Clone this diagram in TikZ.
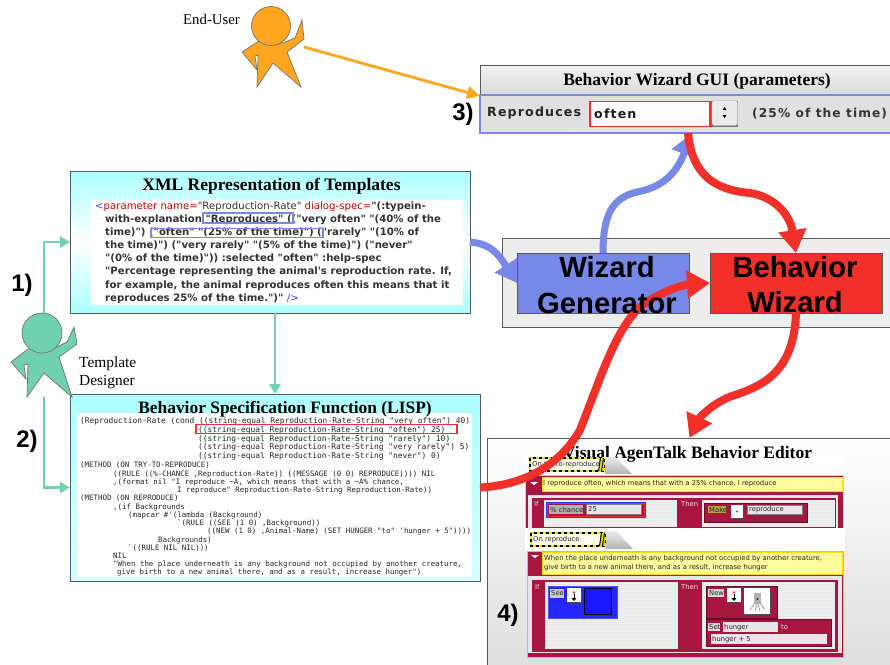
\documentclass[tikz,border=0pt]{standalone}
\usepackage{fontspec}
\setmainfont{Liberation Serif}
\setsansfont{Liberation Sans}
\newfontfamily\codefont{DejaVu Sans}
\newfontfamily\lispfont{DejaVu Sans Mono}
\newfontfamily\guifont[LetterSpace=9]{DejaVu Sans}
\usetikzlibrary{arrows.meta,calc}
\definecolor{grn}{HTML}{6FD1B0}
\definecolor{org}{HTML}{FFA51E}
\definecolor{blu}{HTML}{7788E8}
\definecolor{redd}{HTML}{F2302A}
\definecolor{cyn}{HTML}{ACFFFF}
\definecolor{crim}{HTML}{A8163F}
\definecolor{yel}{HTML}{FFFA9C}
\definecolor{pan}{HTML}{E6E6EA}
\newcommand{\fs}[2]{\fontsize{#1}{#2}\selectfont}
\newcommand{\ind}[1]{\hspace*{#1pt}}
\tikzset{
  box/.style={anchor=north west,inner sep=0pt,outer sep=0pt,draw=black!65,line width=1pt},
  title/.style={font=\bfseries\fs{17.5}{19},inner sep=0pt},
  person/.style={draw=black!55,line width=.7pt,line join=miter},
  bignum/.style={font=\sffamily\bfseries\fs{24}{26},inner sep=0pt},
  biglabel/.style={font=\sffamily\bfseries\fs{29.2}{35.5},align=center,inner sep=0pt,text=black},
  thickblue/.style={draw=blu,line width=7pt,-{Triangle[length=21pt,width=25pt]}},
  thickred/.style={draw=redd,line width=8pt,-{Triangle[length=23pt,width=27pt]}},
  thinarrow/.style={draw=grn,line width=2.5pt,-{Triangle[length=10pt,width=11pt]}},
  hilite/.style={draw=blu,line width=1.3pt,inner sep=0pt,outer sep=0pt,anchor=north west},
  redbox/.style={draw=redd,line width=1.2pt,inner sep=0pt,outer sep=0pt,anchor=north west},
  tiny/.style={font=\codefont\fs{6.8}{9},inner sep=0pt,anchor=west,align=left,text=black!85},
  field/.style={fill=pan,draw=black!50,line width=.4pt},
  crimbox/.style={fill=crim,draw=crim!60!black,line width=.8pt},
  guitext/.style={font=\guifont\bfseries\fs{12.6}{14},inner sep=0pt,anchor=west,text=black!85},
  code/.style={font=\codefont\fs{10.15}{13.1},anchor=north west,align=left,inner sep=0pt,text=black!80},
  lisp/.style={font=\lispfont\fs{7.43}{8.24},anchor=north west,align=left,inner sep=0pt,text=black!85}
}
\newcommand{\stripes}[5]{%
  \pgfmathtruncatemacro\stripenext{#2+2}%
  \foreach \s in {#2,\stripenext,...,#4}{\draw[#5,line width=.5pt] (#1,\s) -- (#3,\s);}
}
\newcommand{\hazard}[4]{%
  \fill[white!92!yellow] (#1,#2) rectangle (#3,#4);
  \draw[yellow!90!black,line width=1.8pt] (#1,#2) rectangle (#3,#4);
  \draw[black,line width=1.8pt,dash pattern=on 3pt off 3pt] (#1,#2) rectangle (#3,#4);
  \fill[yellow!90!black] (#3-5,#2) rectangle (#3,#4);
  \foreach \k in {0,1}{\fill[black] (#3-4+\k*3-2,#4) -- (#3-4+\k*3,#2) -- (#3-4+\k*3+1,#2) -- (#3-4+\k*3-1,#4) -- cycle;}
}
\newcommand{\iconbox}[4]{%
  \fill[black!70] (#1+1,#2+1) rectangle (#3+1,#4+1);
  \fill[white] (#1,#2) rectangle (#3,#4);
}
\begin{document}
\begin{tikzpicture}[x=1pt,y=-1pt]
\useasboundingbox (0,0) rectangle (890,664);
\fill[white] (0,0) rectangle (890,664);

% ---- End user
\draw[person,fill=org] (259,41)--(242,52)--(257,70)--(255,56)--(258,55)--(257,87)--(273,63)--(301,87)--(287,52)--(304,39)--(302,20)--(295,38)--(283,43)--cycle;
\node[circle,person,fill=org,minimum size=39pt,inner sep=0pt] (enduser) at (271,26) {};
\node[font=\fs{14.8}{16},inner sep=0pt,anchor=west] (enduserlabel) at (183,19) {End-User};
\coordinate (enduserhand) at (304,47);

% ---- GUI
\node[box,minimum width=412pt,minimum height=30pt,top color=black!5,bottom color=black!15] (guititle) at (480,65.5) {};
\node[anchor=north west,inner sep=0pt,outer sep=0pt,minimum width=412pt,minimum height=38pt,fill=black!12,draw=blu,line width=1.2pt] (gui) at (480,95) {};
\node[title] (guilabel) at (697,81) {Behavior Wizard GUI (parameters)};
\node[guitext] (repro) at (487,113.5) {Reproduces};
\fill[black!55] (710,101) rectangle (738,127);
\draw[black!35,fill=black!8,rounded corners=1.5pt] (712,100.5) rectangle (737.5,125.5);
\fill (722.5,110) -- (724.5,107) -- (726.5,110) -- cycle;
\fill (722.5,115) -- (724.5,118) -- (726.5,115) -- cycle;
\node[redbox,fill=white,minimum width=120pt,minimum height=25pt] (often) at (590,101.5) {};
\node[guitext,text=black!90] (oftentext) at (594,113.5) {often};
\node[guitext,text=black!80,font=\guifont\bfseries\fs{12.2}{14}] (pct) at (752,113.5) {(25\% of the time)};
\node[bignum] (n3) at (463,114) {3)};
\coordinate (guiorange) at (480,96);
\coordinate (guiblue) at (691,134);
\coordinate (guired) at (688,133);

% ---- Generator container
\node[box,fill=black!7,minimum width=390pt,minimum height=89pt] (cont) at (502,238) {};
\node[box,fill=blu,minimum width=172pt,minimum height=60pt] (gen) at (517,253) {};
\node[box,fill=redd,minimum width=172pt,minimum height=60pt] (bw) at (710,253) {};

% ---- XML
\node[box,minimum width=400pt,minimum height=71pt,top color=cyn,bottom color=white,draw=none] (xmla) at (70,171) {};
\node[box,minimum width=400pt,minimum height=71pt,top color=white,bottom color=cyn,draw=none] (xmlb) at (70,242) {};
\node[box,minimum width=400pt,minimum height=142pt] (xml) at (70,171) {};
\fill[white] (91,200) rectangle (463,305);
\node[title] (xmltitle) at (271.5,186.5) {XML Representation of Templates};
\node[code] (xmlcode) at (95,201.5) {\textcolor{blue!75}{<}\textcolor{red!75!black}{parameter name=}"Reproduction-Rate" \textcolor{red!75!black}{dialog-spec=}{\bfseries"(:typein-}\\
\bfseries\hspace*{10pt}with-explanation "Reproduces" (("very often" "(40\% of the\\
\bfseries\hspace*{10pt}time)") ("often" "(25\% of the time)") ("rarely" "(10\% of\\
\bfseries\hspace*{10pt}the time)") ("very rarely" "(5\% of the time)") ("never"\\
\bfseries\hspace*{10pt}"(0\% of the time)")) :selected "often" :help-spec\\
\bfseries\hspace*{10pt}"Percentage representing the animal's reproduction rate. If,\\
\bfseries\hspace*{10pt}for example, the animal reproduces often this means that it\\
\bfseries\hspace*{10pt}reproduces 25\% of the time.")" \textcolor{blue!75}{\mdseries/>}};
\node[hilite,minimum width=90pt,minimum height=10pt] (hlrepro) at (203,213) {};
\node[hilite,minimum width=172pt,minimum height=9pt] (hloften) at (151,228.5) {};

% ---- LISP
\node[box,minimum width=410pt,minimum height=187pt,top color=cyn,bottom color=cyn!50!white] (lisp) at (70,394) {};
\fill[white] (77,413) rectangle (472,577);
\node[title,font=\bfseries\fs{17.4}{19}] (lisptitle) at (285,409.5) {Behavior Specification Function (LISP)};
\node[lisp,font=\lispfont\fs{7.9}{8.7}] (lispa) at (80,417.5) {(Reproduction-Rate (cond ((string-equal Reproduction-Rate-String "very often") 40)\\
\ind{118}((string-equal Reproduction-Rate-String "often") 25)\\
\ind{118}((string-equal Reproduction-Rate-String "rarely") 10)\\
\ind{118}((string-equal Reproduction-Rate-String "very rarely") 5)\\
\ind{118}((string-equal Reproduction-Rate-String "never") 0)};
\node[lisp] (lispb) at (80,462) {(METHOD (ON TRY-TO-REPRODUCE)\\
\ind{33}((RULE ((\%-CHANCE ,Reproduction-Rate)) ((MESSAGE (0 0) REPRODUCE)))) NIL\\
\ind{33},(format nil "I reproduce \textasciitilde A, which means that with a \textasciitilde A\% chance,\\
\ind{97}I reproduce" Reproduction-Rate-String Reproduction-Rate))\\
(METHOD (ON REPRODUCE)\\
\ind{33},(if Backgrounds\\
\ind{48}(mapcar \#'(lambda (Background)\\
\ind{97}`(RULE ((SEE (1 0) ,Background))\\
\ind{127}((NEW (1 0) ,Animal-Name) (SET HUNGER "to" 'hunger + 5"))))\\
\ind{78}Backgrounds)\\
\ind{48}`((RULE NIL NIL)))\\
\ind{33}NIL\\
\ind{33}"When the place underneath is any background not occupied by another creature,\\
\ind{37}give birth to a new animal there, and as a result, increase hunger")};
\node[redbox,minimum width=261pt,minimum height=9pt] (hllisp) at (196,424.5) {};

% ---- Person: template designer
\draw[person,fill=grn] (28,349)--(11,362)--(26,379)--(24,365)--(28,364)--(27,397)--(44,373)--(72,397)--(59,357)--(77,344)--(74,327)--(67,342)--(57,347)--cycle;
\node[circle,person,fill=grn,minimum size=40pt,inner sep=0pt] (designer) at (42,333) {};
\node[font=\fs{15.4}{18},inner sep=0pt,anchor=north west,align=left] (designerlabel) at (79,357) {Template\\Designer};
\coordinate (designertop) at (44,313);
\coordinate (designerbot) at (44,397);
\node[bignum] (n1) at (22,285) {1)};
\node[bignum] (n2) at (27,441) {2)};

% ---- Editor
\node[box,minimum width=405pt,minimum height=228pt,top color=white,bottom color=black!13] (editor) at (487,438) {};
\fill[white] (525,456) rectangle (845,551);
\node[title] (edtitle) at (687.5,454.5) {Visual AgenTalk Behavior Editor};

% tab 1 + rule 1
\shade[top color=black!8,bottom color=black!30] (605,457)--(615,457)--(632,474)--(605,474)--cycle;
\hazard{530}{458}{604}{471}
\node[tiny] (tab1) at (532,465) {On try-to-reproduce};
\draw[crimbox,draw=pink] (525,475) rectangle (843,528);
\fill[yel] (542,477) rectangle (842,491);
\draw[yellow!80!orange,line width=.5pt] (542,477) rectangle (842,491);
\fill[white] (530,482) -- (538,482) -- (534,485) -- cycle;
\node[tiny] (say1) at (543,484) {I reproduce often, which means that with a 25\% chance, I reproduce};
\fill[pan] (528,495) rectangle (838,528);
\fill[crim] (532,498) rectangle (836,528);
\fill[pan!60!white] (544,500) rectangle (677,526);
\fill[pan!60!white] (702,500) rectangle (835,526);
\stripes{544}{500}{677}{526}{black!9}
\stripes{702}{500}{835}{526}{black!9}
\node[tiny,text=pan] (if1) at (534,504) {If};
\node[tiny,text=pan] (then1) at (681,504) {Then};
\draw[fill=crim,draw=blue!80,line width=1pt] (546,502) rectangle (645,517);
\draw[draw=redd,line width=1pt] (547,503) rectangle (644,516);
\fill[black!30] (549,505) rectangle (583,514);
\draw[field] (586,504) rectangle (641,514);
\node[tiny] (chance) at (550,509.5) {\% chance};
\node[tiny] (v25) at (588,509.5) {25};
\draw[crimbox] (704,503) rectangle (807,522);
\fill[yellow!65!black] (708,506) rectangle (726,513);
\node[tiny] (make) at (709,509.5) {Make};
\iconbox{731}{505}{743}{518}
\fill[redd] (737,511.5) circle (1.2pt);
\draw[field] (747,505) rectangle (802,514);
\node[tiny] (repr1) at (749,510) {reproduce};

% tab 2 + rule 2
\fill[white] (525,528) rectangle (845,551);
\shade[top color=black!8,bottom color=black!30] (606,531)--(616,531)--(633,549)--(606,549)--cycle;
\hazard{531}{533}{605}{546}
\node[tiny] (tab2) at (533,540) {On reproduce};
\draw[crimbox,draw=blu!60] (527,551) rectangle (843,657);
\fill[yel] (542,552) rectangle (842,574);
\draw[yellow!80!orange,line width=.5pt] (542,552) rectangle (842,574);
\fill[white] (531,555) -- (539,555) -- (535,558) -- cycle;
\node[tiny] (say2) at (544,563) {When the place underneath is any background not occupied by another creature,\\give birth to a new animal there, and as a result, increase hunger};
\fill[pan] (528,576) rectangle (842,653);
\fill[crim] (532,580) rectangle (838,652);
\fill[pan!60!white] (545,582) rectangle (678,649);
\fill[pan!60!white] (702,582) rectangle (835,649);
\stripes{545}{582}{678}{649}{black!9}
\stripes{702}{582}{835}{649}{black!9}
\node[tiny,text=pan] (if2) at (535,587) {If};
\node[tiny,text=pan] (then2) at (681,587) {Then};
\draw[fill=blue!85!white,draw=blu!60!blue] (548,586) rectangle (617,618);
\fill[black!20] (550,589) rectangle (564,598);
\node[tiny] (see) at (551,593.5) {See};
\iconbox{567}{588}{581}{602}
\fill[redd] (574,592.5) circle (1.3pt);
\draw[-{Triangle[length=3pt,width=5pt]},line width=1pt] (574,594) -- (574,601);
\draw[fill=blue!90!white,draw=black,line width=.8pt] (584,588) rectangle (611,614);
\draw[crimbox] (706,586) rectangle (777,618);
\fill[black!15] (708,589) rectangle (724,597);
\node[tiny] (new) at (709,593.5) {New};
\iconbox{727}{588}{741}{602}
\fill[redd] (734,592.5) circle (1.3pt);
\draw[-{Triangle[length=3pt,width=5pt]},line width=1pt] (734,594) -- (734,601);
\iconbox{744}{588}{770}{614}
\fill[black!30] (754,593) rectangle (761,604);
\fill[red!60!black] (757.5,599) circle (1.2pt);
\draw[black!45,line width=.6pt] (755,603)--(750,610) (757,604)--(755,611) (758,604)--(760,611) (760,603)--(765,610);
\draw[crimbox] (706,619) rectangle (831,646);
\fill[black!15] (708,623) rectangle (720,631);
\node[tiny] (set) at (709,627) {Set};
\draw[field,draw=none] (723,622) rectangle (778,632);
\node[tiny] (hunger) at (724,627.5) {hunger};
\node[tiny,text=pan] (to) at (781,627.5) {to};
\draw[field,draw=none] (711,634) rectangle (827,644);
\node[tiny] (hungerplus) at (712,639.5) {hunger + 5};
\node[bignum] (n4) at (508,615) {4)};

% ---- Connectors
\draw[draw=org,line width=2.8pt,-{Triangle[length=13pt,width=12pt]}] (enduserhand) -- (guiorange);
\draw[thinarrow] (designertop) |- (xml.west);
\draw[thinarrow] (designerbot) |- (lisp.west);
\draw[thinarrow] (lisp.north |- xml.south) -- (lisp.north);
\draw[thickblue] (xml.east) .. controls (490,244) and (497,252) .. (gen.west);
\draw[thickblue] (gen.north) .. controls (603,215) and (612,198) .. (637,192) .. controls (665,187) and (678,170) .. (guiblue);
\draw[thickred] (guired) .. controls (692,175) and (715,190) .. (750,193) .. controls (775,197) and (790,215) .. (bw.north);
\draw[thickred] (lisp.east) .. controls (525,485) and (560,465) .. (580,430) .. controls (600,380) and (615,330) .. (640,307) .. controls (655,295) and (680,285) .. (bw.west);
\draw[thickred] (bw.south) .. controls (794,370) and (765,385) .. (735,395) .. controls (712,402) and (698,420) .. (editor.north);

% ---- Labels above the arrows
\node[biglabel] (genlabel) at (607,285) {Wizard\\Generator};
\node[biglabel] (bwlabel) at (795,284.5) {Behavior\\Wizard};
\end{tikzpicture}
\end{document}
